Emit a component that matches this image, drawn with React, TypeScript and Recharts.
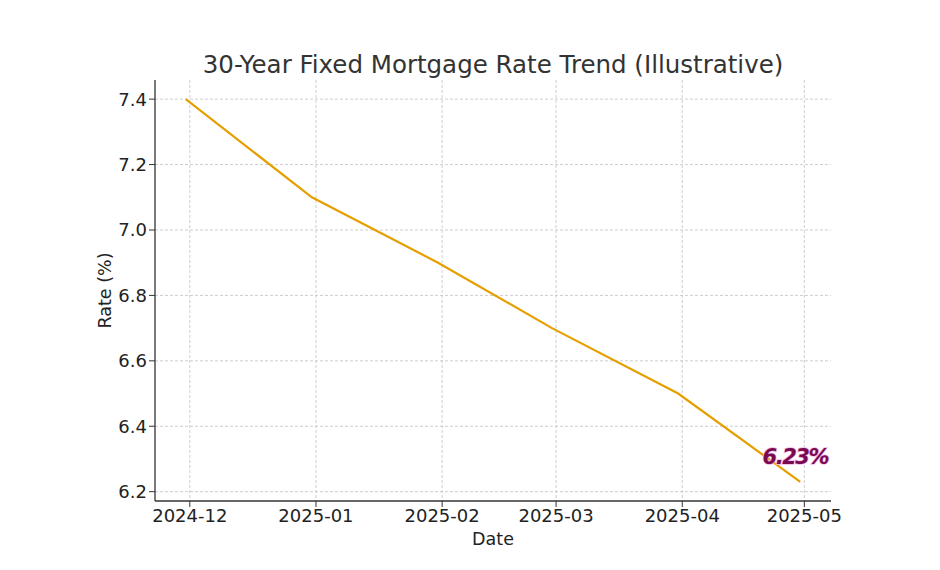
import React from 'react';
import { LineChart, Line, XAxis, YAxis, CartesianGrid, ReferenceDot } from 'recharts';

// month-end readings
const dates = ['2024-11-30', '2024-12-31', '2025-01-31', '2025-02-28', '2025-03-31', '2025-04-30'];
const rates = [7.4, 7.1, 6.9, 6.7, 6.5, 6.23];
const monthTicks = ['2024-12-01', '2025-01-01', '2025-02-01', '2025-03-01', '2025-04-01', '2025-05-01'];
const rateTicks = [6.2, 6.4, 6.6, 6.8, 7.0, 7.2, 7.4];

const toMs = (d: string) => {
  const [y, m, day] = d.split('-').map(Number);
  return Date.UTC(y, m - 1, day);
};

const data = dates.map((d, i) => ({ t: toMs(d), rate: rates[i] }));
const monthTickMs = monthTicks.map(toMs);

// matplotlib style 5% padding
const tMin = data[0].t;
const tMax = data[data.length - 1].t;
const tPad = (tMax - tMin) * 0.05;
const rMin = Math.min(...rates);
const rMax = Math.max(...rates);
const rPad = (rMax - rMin) * 0.05;
const xDomain = [tMin - tPad, tMax + tPad];
const yDomain = [rMin - rPad, rMax + rPad];

const FONT = '"DejaVu Sans", sans-serif';
const INK = '#333333';

const fmtMonth = (v: number) => {
  const d = new Date(v);
  return `${d.getUTCFullYear()}-${String(d.getUTCMonth() + 1).padStart(2, '0')}`;
};

const last = data[data.length - 1];

const ScribbleLabel = (props: any) => {
  const { viewBox } = props;
  const x = viewBox.x - 5;
  const y = viewBox.y - 18;
  return (
    <text
      x={x}
      y={y}
      textAnchor="middle"
      fontFamily={FONT}
      fontStyle="italic"
      fontWeight="bold"
      fontSize={21}
      fill="#7a0a4e"
      stroke="#f5b8ec"
      strokeWidth={1.5}
      paintOrder="stroke"
      letterSpacing={-1.5}
    >
      {`${last.rate}%`}
    </text>
  );
};

// grid only at tick values (no lines along the plot edges)
const hLines = (p: any) => {
  const o = p.offset;
  return rateTicks.map((t) => o.top + o.height * (1 - (t - yDomain[0]) / (yDomain[1] - yDomain[0])));
};
const vLines = (p: any) => {
  const o = p.offset;
  return monthTickMs.map((t) => o.left + (o.width * (t - xDomain[0])) / (xDomain[1] - xDomain[0]));
};

const App = () => {
  return (
    <div style={{ width: 932, height: 560, background: '#fff', fontFamily: FONT }}>
      <LineChart width={932} height={560} data={data} margin={{ top: 72, right: 109, left: 67, bottom: 37 }}>
        <text x={485} y={65} textAnchor="middle" fontFamily={FONT} fontSize={24.5} fill={INK}>
          30-Year Fixed Mortgage Rate Trend (Illustrative)
        </text>
        <CartesianGrid
          stroke="#c8c8c8"
          strokeWidth={0.9}
          strokeDasharray="3 2"
          horizontalCoordinatesGenerator={hLines}
          verticalCoordinatesGenerator={vLines}
        />
        <XAxis
          dataKey="t"
          type="number"
          domain={xDomain}
          ticks={monthTickMs}
          tickFormatter={fmtMonth}
          allowDataOverflow
          interval={0}
          height={30}
          tick={{ fill: '#222', fontSize: 18, fontFamily: FONT }}
          tickSize={6}
          tickLine={{ stroke: INK }}
          axisLine={{ stroke: INK, strokeWidth: 1.3 }}
          label={{ value: 'Date', position: 'insideBottom', offset: -14, fill: '#222', fontSize: 17.5, fontFamily: FONT }}
        />
        <YAxis
          type="number"
          domain={yDomain}
          ticks={rateTicks}
          tickFormatter={(v: number) => v.toFixed(1)}
          allowDataOverflow
          interval={0}
          width={80}
          tick={{ fill: '#222', fontSize: 18, fontFamily: FONT }}
          tickSize={6}
          tickLine={{ stroke: INK }}
          axisLine={{ stroke: INK, strokeWidth: 1.3 }}
          label={{ value: 'Rate (%)', angle: -90, position: 'insideLeft', offset: 30, fill: '#222', fontSize: 17.5, fontFamily: FONT, style: { textAnchor: 'middle' } }}
        />
        <Line
          dataKey="rate"
          stroke="#E69F00"
          strokeWidth={2.2}
          dot={false}
          isAnimationActive={false}
        />
        <ReferenceDot x={last.t} y={last.rate} r={0} stroke="none" label={<ScribbleLabel />} />
      </LineChart>
    </div>
  );
};

export default App;
